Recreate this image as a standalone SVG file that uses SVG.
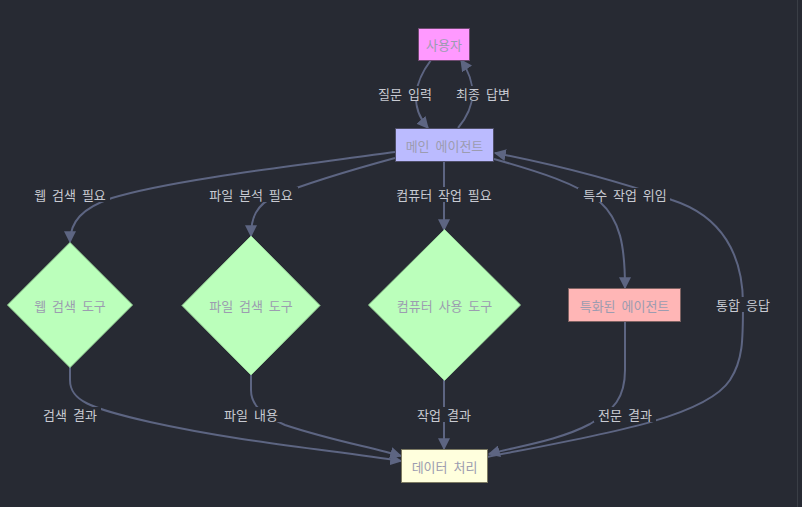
<svg xmlns="http://www.w3.org/2000/svg" width="802" height="507" viewBox="0 0 802 507">
<defs>
<style>
.edge{fill:none;stroke:#5d6582;stroke-width:2}
.nt{font-family:"Noto Sans CJK KR","Noto Sans",sans-serif;font-size:13px;word-spacing:3px;fill:#9c9cb0;text-anchor:middle;dominant-baseline:central}
.lt{font-family:"Noto Sans CJK KR","Noto Sans",sans-serif;font-size:13px;word-spacing:3px;fill:#c8cad2;text-anchor:middle;dominant-baseline:central}
.lbg{fill:#272a33}
.dia{fill:#bbffbb;stroke:#9ad69a;stroke-width:1}
</style>
<marker id="arr" viewBox="0 0 10 10" refX="9" refY="5" markerWidth="12" markerHeight="12" markerUnits="userSpaceOnUse" orient="auto">
<path d="M0,0 L10,5 L0,10 z" fill="#5d6582"/>
</marker>
</defs>
<rect x="0" y="0" width="802" height="507" fill="#272a33"/>
<line x1="797.5" y1="0" x2="797.5" y2="507" stroke="#3a3e46" stroke-width="1"/>
<g id="connectors">
<path class="edge" d="M431,60 C416,80 408,105 428,128" marker-end="url(#arr)"/>
<path class="edge" d="M458,128 C478,104 476,82 461,60" marker-end="url(#arr)"/>
<path class="edge" d="M395,152 C300,165 170,180 112,198 C82,208 70,222 70,242" marker-end="url(#arr)"/>
<path class="edge" d="M395,158 C340,173 300,186 275,196 C256,205 251,218 251,236" marker-end="url(#arr)"/>
<path class="edge" d="M444,161 L444,230" marker-end="url(#arr)"/>
<path class="edge" d="M494,159 C540,172 578,184 600,202 C620,220 625,245 625,288" marker-end="url(#arr)"/>
<path class="edge" d="M487,457 C600,435 705,418 730,380 C743,360 743,340 743,304 C743,255 722,216 672,200 C632,186 572,168 495,153" marker-end="url(#arr)"/>
<path class="edge" d="M70,367 L70,380 C70,400 88,408 150,422 C240,442 330,450 401,461" marker-end="url(#arr)"/>
<path class="edge" d="M251,375 L251,390 C251,405 262,415 285,425 C330,440 370,447 401,456" marker-end="url(#arr)"/>
<path class="edge" d="M444,380 L444,449" marker-end="url(#arr)"/>
<path class="edge" d="M625,322 L625,370 C625,398 614,410 590,424 C560,440 520,446 489,454" marker-end="url(#arr)"/>
</g>
<g id="edge-labels">
<rect class="lbg" x="372" y="86" width="66" height="15"/><text class="lt" x="405" y="93">질문 입력</text>
<rect class="lbg" x="452" y="86" width="62" height="15"/><text class="lt" x="483" y="93">최종 답변</text>
<rect class="lbg" x="30" y="187" width="80" height="15"/><text class="lt" x="70" y="194">웹 검색 필요</text>
<rect class="lbg" x="203" y="187" width="95" height="15"/><text class="lt" x="251" y="194">파일 분석 필요</text>
<rect class="lbg" x="390" y="187" width="108" height="15"/><text class="lt" x="444" y="194">컴퓨터 작업 필요</text>
<rect class="lbg" x="578" y="188" width="92" height="14"/><text class="lt" x="625" y="194">특수 작업 위임</text>
<rect class="lbg" x="712" y="297" width="62" height="15"/><text class="lt" x="743" y="304">통합 응답</text>
<rect class="lbg" x="39" y="407" width="62" height="15"/><text class="lt" x="70" y="414">검색 결과</text>
<rect class="lbg" x="220" y="407" width="62" height="15"/><text class="lt" x="251" y="414">파일 내용</text>
<rect class="lbg" x="413" y="407" width="62" height="15"/><text class="lt" x="444" y="414">작업 결과</text>
<rect class="lbg" x="594" y="407" width="62" height="15"/><text class="lt" x="625" y="414">전문 결과</text>
</g>
<g id="user"><rect x="418.5" y="28.5" width="51" height="32" fill="#ff99ff" stroke="#6e4a70" stroke-width="1"/><text class="nt" x="444" y="44.5">사용자</text></g>
<g id="main"><rect x="395.5" y="128.5" width="98" height="33" fill="#bbbbff" stroke="#4e4e66" stroke-width="1"/><text class="nt" x="444.5" y="145">메인 에이전트</text></g>
<g id="web"><polygon class="dia" points="70,242.5 132.5,305 70,367.5 7.5,305"/><text class="nt" x="70" y="305">웹 검색 도구</text></g>
<g id="file"><polygon class="dia" points="251,236 320,305.5 251,375 182,305.5"/><text class="nt" x="251" y="305">파일 검색 도구</text></g>
<g id="computer"><polygon class="dia" points="444.5,229.5 520.5,305 444.5,380.5 368.5,305"/><text class="nt" x="444.5" y="305">컴퓨터 사용 도구</text></g>
<g id="special"><rect x="568.5" y="288.5" width="112" height="33" fill="#ffb6b6" stroke="#7e6262" stroke-width="1"/><text class="nt" x="624.5" y="305">특화된 에이전트</text></g>
<g id="data"><rect x="401.5" y="449.5" width="86" height="33" fill="#ffffdd" stroke="#7c7a62" stroke-width="1"/><text class="nt" x="444.5" y="466">데이터 처리</text></g>
</svg>
